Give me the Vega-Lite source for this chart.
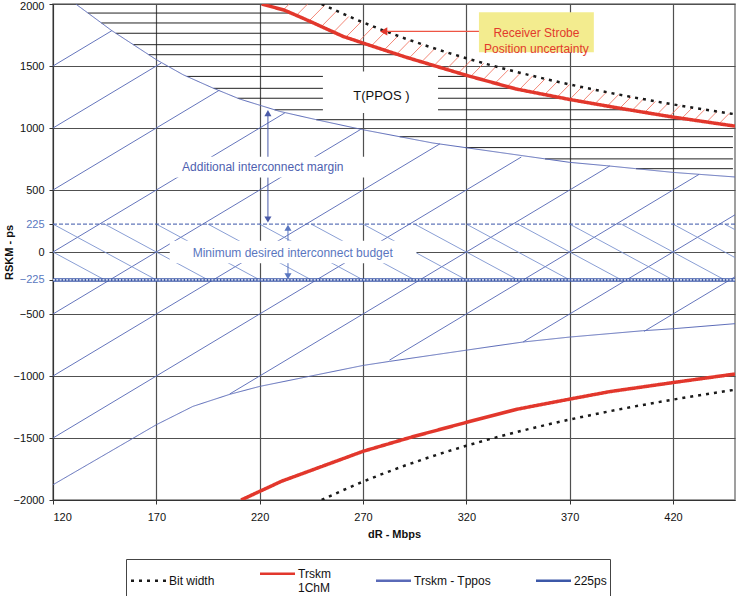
{
  "$schema": "https://vega.github.io/schema/vega-lite/v6.json",
  "width": 682,
  "height": 496,
  "autosize": {"type": "none"},
  "padding": {"left": 53, "top": 4, "right": 1, "bottom": 96},
  "background": "white",
  "config": {
    "font": "Liberation Sans",
    "view": {"stroke": "#808080", "strokeWidth": 1.5},
    "axis": {"gridColor": "#505050", "gridWidth": 1.2, "domainColor": "#333333", "tickColor": "#333333", "labelFontSize": 11, "labelColor": "#111111", "titleFontSize": 11, "titleFontWeight": "bold", "titleColor": "#111111", "tickSize": 4},
    "legend": {"orient": "none", "legendX": 73, "legendY": 555, "direction": "horizontal", "columns": 4, "gridAlign": "each", "strokeColor": "#444444", "padding": 3, "symbolType": "M-1.75,0H1.75", "symbolSize": 400, "symbolOffset": 8, "symbolStrokeWidth": 2.5, "labelFontSize": 12, "labelColor": "#111111", "labelLimit": 200, "columnPadding": 40, "labelOffset": 9}
  },
  "datasets": {
    "curves": [
      {"series": "Bit width", "branch": "bw_up", "x": 250, "y": 2000},
      {"series": "Bit width", "branch": "bw_up", "x": 260, "y": 1923.1},
      {"series": "Bit width", "branch": "bw_up", "x": 270, "y": 1851.9},
      {"series": "Bit width", "branch": "bw_up", "x": 280, "y": 1785.7},
      {"series": "Bit width", "branch": "bw_up", "x": 290, "y": 1724.1},
      {"series": "Bit width", "branch": "bw_up", "x": 300, "y": 1666.7},
      {"series": "Bit width", "branch": "bw_up", "x": 310, "y": 1612.9},
      {"series": "Bit width", "branch": "bw_up", "x": 320, "y": 1562.5},
      {"series": "Bit width", "branch": "bw_up", "x": 330, "y": 1515.2},
      {"series": "Bit width", "branch": "bw_up", "x": 340, "y": 1470.6},
      {"series": "Bit width", "branch": "bw_up", "x": 350, "y": 1428.6},
      {"series": "Bit width", "branch": "bw_up", "x": 360, "y": 1388.9},
      {"series": "Bit width", "branch": "bw_up", "x": 370, "y": 1351.4},
      {"series": "Bit width", "branch": "bw_up", "x": 380, "y": 1315.8},
      {"series": "Bit width", "branch": "bw_up", "x": 390, "y": 1282.1},
      {"series": "Bit width", "branch": "bw_up", "x": 400, "y": 1250},
      {"series": "Bit width", "branch": "bw_up", "x": 410, "y": 1219.5},
      {"series": "Bit width", "branch": "bw_up", "x": 420, "y": 1190.5},
      {"series": "Bit width", "branch": "bw_up", "x": 430, "y": 1162.8},
      {"series": "Bit width", "branch": "bw_up", "x": 440, "y": 1136.4},
      {"series": "Bit width", "branch": "bw_up", "x": 450, "y": 1111.1},
      {"series": "Bit width", "branch": "bw_lo", "x": 250, "y": -2000},
      {"series": "Bit width", "branch": "bw_lo", "x": 260, "y": -1923.1},
      {"series": "Bit width", "branch": "bw_lo", "x": 270, "y": -1851.9},
      {"series": "Bit width", "branch": "bw_lo", "x": 280, "y": -1785.7},
      {"series": "Bit width", "branch": "bw_lo", "x": 290, "y": -1724.1},
      {"series": "Bit width", "branch": "bw_lo", "x": 300, "y": -1666.7},
      {"series": "Bit width", "branch": "bw_lo", "x": 310, "y": -1612.9},
      {"series": "Bit width", "branch": "bw_lo", "x": 320, "y": -1562.5},
      {"series": "Bit width", "branch": "bw_lo", "x": 330, "y": -1515.2},
      {"series": "Bit width", "branch": "bw_lo", "x": 340, "y": -1470.6},
      {"series": "Bit width", "branch": "bw_lo", "x": 350, "y": -1428.6},
      {"series": "Bit width", "branch": "bw_lo", "x": 360, "y": -1388.9},
      {"series": "Bit width", "branch": "bw_lo", "x": 370, "y": -1351.4},
      {"series": "Bit width", "branch": "bw_lo", "x": 380, "y": -1315.8},
      {"series": "Bit width", "branch": "bw_lo", "x": 390, "y": -1282.1},
      {"series": "Bit width", "branch": "bw_lo", "x": 400, "y": -1250},
      {"series": "Bit width", "branch": "bw_lo", "x": 410, "y": -1219.5},
      {"series": "Bit width", "branch": "bw_lo", "x": 420, "y": -1190.5},
      {"series": "Bit width", "branch": "bw_lo", "x": 430, "y": -1162.8},
      {"series": "Bit width", "branch": "bw_lo", "x": 440, "y": -1136.4},
      {"series": "Bit width", "branch": "bw_lo", "x": 450, "y": -1111.1},
      {"series": "Trskm 1ChM", "branch": "r_up", "x": 221, "y": 2000},
      {"series": "Trskm 1ChM", "branch": "r_up", "x": 232, "y": 1950},
      {"series": "Trskm 1ChM", "branch": "r_up", "x": 242.6, "y": 1873},
      {"series": "Trskm 1ChM", "branch": "r_up", "x": 260.3, "y": 1739},
      {"series": "Trskm 1ChM", "branch": "r_up", "x": 270, "y": 1685},
      {"series": "Trskm 1ChM", "branch": "r_up", "x": 291, "y": 1570},
      {"series": "Trskm 1ChM", "branch": "r_up", "x": 320, "y": 1425},
      {"series": "Trskm 1ChM", "branch": "r_up", "x": 344, "y": 1315},
      {"series": "Trskm 1ChM", "branch": "r_up", "x": 370, "y": 1230},
      {"series": "Trskm 1ChM", "branch": "r_up", "x": 395, "y": 1157},
      {"series": "Trskm 1ChM", "branch": "r_up", "x": 420, "y": 1088},
      {"series": "Trskm 1ChM", "branch": "r_up", "x": 450, "y": 1015},
      {"series": "Trskm 1ChM", "branch": "r_lo", "x": 211, "y": -2000},
      {"series": "Trskm 1ChM", "branch": "r_lo", "x": 230.7, "y": -1848},
      {"series": "Trskm 1ChM", "branch": "r_lo", "x": 270.1, "y": -1607},
      {"series": "Trskm 1ChM", "branch": "r_lo", "x": 293.6, "y": -1492},
      {"series": "Trskm 1ChM", "branch": "r_lo", "x": 320, "y": -1374},
      {"series": "Trskm 1ChM", "branch": "r_lo", "x": 344.8, "y": -1267},
      {"series": "Trskm 1ChM", "branch": "r_lo", "x": 369.8, "y": -1187},
      {"series": "Trskm 1ChM", "branch": "r_lo", "x": 389.4, "y": -1126},
      {"series": "Trskm 1ChM", "branch": "r_lo", "x": 420, "y": -1053},
      {"series": "Trskm 1ChM", "branch": "r_lo", "x": 450, "y": -984},
      {"series": "Trskm - Tppos", "branch": "b_up", "x": 131, "y": 2000},
      {"series": "Trskm - Tppos", "branch": "b_up", "x": 148.3, "y": 1787},
      {"series": "Trskm - Tppos", "branch": "b_up", "x": 170, "y": 1551},
      {"series": "Trskm - Tppos", "branch": "b_up", "x": 182.9, "y": 1430},
      {"series": "Trskm - Tppos", "branch": "b_up", "x": 197.4, "y": 1322},
      {"series": "Trskm - Tppos", "branch": "b_up", "x": 210.3, "y": 1234},
      {"series": "Trskm - Tppos", "branch": "b_up", "x": 229.7, "y": 1134},
      {"series": "Trskm - Tppos", "branch": "b_up", "x": 247.4, "y": 1067},
      {"series": "Trskm - Tppos", "branch": "b_up", "x": 270, "y": 986},
      {"series": "Trskm - Tppos", "branch": "b_up", "x": 303.8, "y": 879},
      {"series": "Trskm - Tppos", "branch": "b_up", "x": 328, "y": 822},
      {"series": "Trskm - Tppos", "branch": "b_up", "x": 370, "y": 723},
      {"series": "Trskm - Tppos", "branch": "b_up", "x": 387.7, "y": 696},
      {"series": "Trskm - Tppos", "branch": "b_up", "x": 420, "y": 642},
      {"series": "Trskm - Tppos", "branch": "b_up", "x": 450, "y": 605},
      {"series": "Trskm - Tppos", "branch": "b_lo", "x": 120, "y": -1877},
      {"series": "Trskm - Tppos", "branch": "b_lo", "x": 129.7, "y": -1783},
      {"series": "Trskm - Tppos", "branch": "b_lo", "x": 170, "y": -1393},
      {"series": "Trskm - Tppos", "branch": "b_lo", "x": 187.7, "y": -1245},
      {"series": "Trskm - Tppos", "branch": "b_lo", "x": 205.5, "y": -1148},
      {"series": "Trskm - Tppos", "branch": "b_lo", "x": 220, "y": -1084},
      {"series": "Trskm - Tppos", "branch": "b_lo", "x": 270, "y": -915},
      {"series": "Trskm - Tppos", "branch": "b_lo", "x": 282.9, "y": -882},
      {"series": "Trskm - Tppos", "branch": "b_lo", "x": 331, "y": -765},
      {"series": "Trskm - Tppos", "branch": "b_lo", "x": 347.4, "y": -726},
      {"series": "Trskm - Tppos", "branch": "b_lo", "x": 370, "y": -686},
      {"series": "Trskm - Tppos", "branch": "b_lo", "x": 405.4, "y": -635},
      {"series": "Trskm - Tppos", "branch": "b_lo", "x": 420, "y": -619},
      {"series": "Trskm - Tppos", "branch": "b_lo", "x": 450, "y": -578},
      {"series": "225ps", "branch": "m225", "x": 120, "y": -225},
      {"series": "225ps", "branch": "m225", "x": 450, "y": -225}
    ],
    "asc": [
      {"x": 120, "y": 1500, "x2": 148.5, "y2": 1785},
      {"x": 120, "y": 1000, "x2": 172.4, "y2": 1524},
      {"x": 120, "y": 500, "x2": 200.5, "y2": 1305},
      {"x": 120, "y": 0, "x2": 232.2, "y2": 1122},
      {"x": 120, "y": -500, "x2": 268.8, "y2": 988},
      {"x": 120, "y": -1000, "x2": 307.2, "y2": 872},
      {"x": 120, "y": -1500, "x2": 346.6, "y2": 766},
      {"x": 205.5, "y": -1145, "x2": 389.4, "y2": 694},
      {"x": 282.8, "y": -872, "x2": 432.6, "y2": 626},
      {"x": 347.5, "y": -725, "x2": 450, "y2": 300},
      {"x": 406, "y": -640, "x2": 450, "y2": -200}
    ],
    "desc": [
      {"x": 120, "y": 0, "x2": 145, "y2": -225},
      {"x": 120, "y": 225, "x2": 170, "y2": -225},
      {"x": 145, "y": 225, "x2": 195, "y2": -225},
      {"x": 170, "y": 225, "x2": 220, "y2": -225},
      {"x": 195, "y": 225, "x2": 245, "y2": -225},
      {"x": 220, "y": 225, "x2": 270, "y2": -225},
      {"x": 245, "y": 225, "x2": 295, "y2": -225},
      {"x": 270, "y": 225, "x2": 320, "y2": -225},
      {"x": 295, "y": 225, "x2": 345, "y2": -225},
      {"x": 320, "y": 225, "x2": 370, "y2": -225},
      {"x": 345, "y": 225, "x2": 395, "y2": -225},
      {"x": 370, "y": 225, "x2": 420, "y2": -225},
      {"x": 395, "y": 225, "x2": 445, "y2": -225},
      {"x": 420, "y": 225, "x2": 450, "y2": -45},
      {"x": 445, "y": 225, "x2": 450, "y2": 180}
    ],
    "horiz": [
      {"y": 1927, "x": 136.9, "x2": 235.2},
      {"y": 1847, "x": 143.4, "x2": 246.0},
      {"y": 1764, "x": 150.4, "x2": 257.0},
      {"y": 1672, "x": 158.9, "x2": 272.6},
      {"y": 1591, "x": 166.3, "x2": 288.4},
      {"y": 1416, "x": 184.8, "x2": 322.8},
      {"y": 1320, "x": 197.7, "x2": 341.8},
      {"y": 1240, "x": 209.4, "x2": 366.1},
      {"y": 1147, "x": 227.2, "x2": 399.9},
      {"y": 1067, "x": 247.4, "x2": 430.8},
      {"y": 930, "x": 287.7, "x2": 449},
      {"y": 842, "x": 319.5, "x2": 449},
      {"y": 751, "x": 358.1, "x2": 449},
      {"y": 672, "x": 402.1, "x2": 449}
    ],
    "rhatch": [
      {"x": 232, "y": 1961.2, "x2": 234.3, "y2": 2000},
      {"x": 238, "y": 1911.8, "x2": 243.2, "y2": 2000},
      {"x": 244, "y": 1864.8, "x2": 251.4, "y2": 1989.5},
      {"x": 250, "y": 1820, "x2": 257.2, "y2": 1942.4},
      {"x": 256, "y": 1777.3, "x2": 263.1, "y2": 1898.7},
      {"x": 262, "y": 1736.6, "x2": 269.1, "y2": 1856.8},
      {"x": 268, "y": 1697.8, "x2": 275.0, "y2": 1817.0},
      {"x": 274, "y": 1660.6, "x2": 280.9, "y2": 1778.6},
      {"x": 280, "y": 1625, "x2": 286.9, "y2": 1741.8},
      {"x": 286, "y": 1590.9, "x2": 292.8, "y2": 1706.7},
      {"x": 292, "y": 1558.2, "x2": 298.7, "y2": 1672.8},
      {"x": 298, "y": 1526.8, "x2": 304.7, "y2": 1640.2},
      {"x": 304, "y": 1496.7, "x2": 310.6, "y2": 1608.9},
      {"x": 310, "y": 1467.7, "x2": 316.5, "y2": 1578.9},
      {"x": 316, "y": 1439.9, "x2": 322.5, "y2": 1549.9},
      {"x": 322, "y": 1413.0, "x2": 328.4, "y2": 1522.0},
      {"x": 328, "y": 1387.2, "x2": 334.3, "y2": 1495.0},
      {"x": 334, "y": 1362.3, "x2": 340.3, "y2": 1468.9},
      {"x": 340, "y": 1338.2, "x2": 346.2, "y2": 1443.8},
      {"x": 346, "y": 1315.0, "x2": 352.1, "y2": 1419.4},
      {"x": 352, "y": 1292.6, "x2": 358.1, "y2": 1395.8},
      {"x": 358, "y": 1270.9, "x2": 364.0, "y2": 1373.1},
      {"x": 364, "y": 1250, "x2": 370.0, "y2": 1351.2},
      {"x": 370, "y": 1229.7, "x2": 375.9, "y2": 1329.8},
      {"x": 376, "y": 1210.1, "x2": 381.8, "y2": 1309.2},
      {"x": 382, "y": 1191.1, "x2": 387.8, "y2": 1289.2},
      {"x": 388, "y": 1172.7, "x2": 393.7, "y2": 1269.8},
      {"x": 394, "y": 1154.8, "x2": 399.7, "y2": 1250.9},
      {"x": 400, "y": 1137.5, "x2": 405.6, "y2": 1232.5},
      {"x": 406, "y": 1120.7, "x2": 411.5, "y2": 1214.7},
      {"x": 412, "y": 1104.4, "x2": 417.5, "y2": 1197.4},
      {"x": 418, "y": 1088.5, "x2": 423.4, "y2": 1180.6},
      {"x": 424, "y": 1073.1, "x2": 429.4, "y2": 1164.2},
      {"x": 430, "y": 1058.1, "x2": 435.3, "y2": 1148.4},
      {"x": 436, "y": 1043.6, "x2": 441.3, "y2": 1133.0},
      {"x": 442, "y": 1029.4, "x2": 447.2, "y2": 1117.8}
    ],
    "wboxes": [
      {"x": 250.6, "x2": 306.3, "y": 1121, "y2": 1456},
      {"x": 177.5, "x2": 272.4, "y": 600, "y2": 768},
      {"x": 176.5, "x2": 295.8, "y": -90, "y2": 90}
    ]
  },
  "encoding": {
    "x": {"field": "x", "type": "quantitative", "scale": {"domain": [120, 450], "nice": false, "zero": false},
      "axis": {"values": [120, 170, 220, 270, 320, 370, 420], "title": "dR - Mbps", "labelPadding": 7, "titlePadding": 6, "grid": true}},
    "y": {"field": "y", "type": "quantitative", "scale": {"domain": [-2000, 2000], "nice": false, "zero": false},
      "axis": {"values": [-2000, -1500, -1000, -500, -225, 0, 225, 500, 1000, 1500, 2000], "format": "d", "title": "RSKM - ps", "labelPadding": 5, "grid": true,
        "labelColor": {"condition": {"test": "abs(datum.value) == 225", "value": "#5a78c0"}, "value": "#111111"},
        "labelBaseline": {"condition": {"test": "datum.value == 2000", "value": "top"}, "value": "middle"},
        "labelOffset": {"condition": {"test": "datum.value == 2000", "value": -4}, "value": 0},
        "gridOpacity": {"condition": {"test": "abs(datum.value) == 225", "value": 0}, "value": 1},
        "titleX": -44, "titleY": 248, "titleAngle": 270, "titleAlign": "center", "titleBaseline": "middle"}}
  },
  "layer": [
    {"data": {"name": "asc"}, "mark": {"type": "rule", "color": "#5566b6", "strokeWidth": 0.9},
      "encoding": {"x2": {"field": "x2"}, "y2": {"field": "y2"}}},
    {"data": {"name": "desc"}, "mark": {"type": "rule", "color": "#7c93cf", "strokeWidth": 0.9},
      "encoding": {"x2": {"field": "x2"}, "y2": {"field": "y2"}}},
    {"data": {"name": "horiz"}, "mark": {"type": "rule", "color": "#222222", "strokeWidth": 1},
      "encoding": {"x2": {"field": "x2"}}},
    {"data": {"name": "rhatch"}, "mark": {"type": "rule", "color": "#f06a55", "strokeWidth": 0.8},
      "encoding": {"x2": {"field": "x2"}, "y2": {"field": "y2"}}},
    {"data": {"name": "wboxes"}, "mark": {"type": "rect", "fill": "white"},
      "encoding": {"x2": {"field": "x2"}, "y2": {"field": "y2"}}},
    {"data": {"values": [{"x": 120, "x2": 450, "y": 225}]}, "mark": {"type": "rule", "color": "#3a55a8", "strokeWidth": 1, "strokeDash": [4, 2]},
      "encoding": {"x2": {"field": "x2"}}},
    {"data": {"name": "curves"}, "transform": [{"filter": "datum.series == 'Trskm - Tppos'"}],
      "mark": {"type": "line", "clip": true, "strokeWidth": 1},
      "encoding": {
        "detail": {"field": "branch"},
        "color": {"field": "series", "type": "nominal", "scale": {"domain": ["Bit width", "Trskm 1ChM", "Trskm - Tppos", "225ps"], "range": ["#1a1a1a", "#e2372c", "#5a6ab8", "#3c58a8"]},
          "legend": {"title": null, "labelExpr": "datum.label == 'Trskm 1ChM' ? ['Trskm', '1ChM'] : datum.label"}},
        "strokeDash": {"field": "series", "type": "nominal", "scale": {"domain": ["Bit width", "Trskm 1ChM", "Trskm - Tppos", "225ps"], "range": [[3, 5], [1, 0], [1, 0], [1, 0]]},
          "legend": {"title": null, "labelExpr": "datum.label == 'Trskm 1ChM' ? ['Trskm', '1ChM'] : datum.label"}}
      }},
    {"data": {"name": "curves"}, "transform": [{"filter": "datum.series == '225ps'"}],
      "mark": {"type": "line", "clip": true, "strokeWidth": 3.5},
      "encoding": {
        "detail": {"field": "branch"},
        "color": {"field": "series", "type": "nominal", "scale": {"domain": ["Bit width", "Trskm 1ChM", "Trskm - Tppos", "225ps"], "range": ["#1a1a1a", "#e2372c", "#5a6ab8", "#3c58a8"]},
          "legend": {"title": null, "labelExpr": "datum.label == 'Trskm 1ChM' ? ['Trskm', '1ChM'] : datum.label"}},
        "strokeDash": {"field": "series", "type": "nominal", "scale": {"domain": ["Bit width", "Trskm 1ChM", "Trskm - Tppos", "225ps"], "range": [[3, 5], [1, 0], [1, 0], [1, 0]]},
          "legend": {"title": null, "labelExpr": "datum.label == 'Trskm 1ChM' ? ['Trskm', '1ChM'] : datum.label"}}
      }},
    {"data": {"name": "curves"}, "transform": [{"filter": "datum.series == '225ps'"}],
      "mark": {"type": "line", "color": "white", "strokeWidth": 1.2, "strokeDash": [2, 1.3]},
      "encoding": {}},
    {"data": {"name": "curves"}, "transform": [{"filter": "datum.series == 'Bit width'"}],
      "mark": {"type": "line", "clip": true, "strokeWidth": 2.5},
      "encoding": {
        "detail": {"field": "branch"},
        "color": {"field": "series", "type": "nominal", "scale": {"domain": ["Bit width", "Trskm 1ChM", "Trskm - Tppos", "225ps"], "range": ["#1a1a1a", "#e2372c", "#5a6ab8", "#3c58a8"]},
          "legend": {"title": null, "labelExpr": "datum.label == 'Trskm 1ChM' ? ['Trskm', '1ChM'] : datum.label"}},
        "strokeDash": {"field": "series", "type": "nominal", "scale": {"domain": ["Bit width", "Trskm 1ChM", "Trskm - Tppos", "225ps"], "range": [[3, 5], [1, 0], [1, 0], [1, 0]]},
          "legend": {"title": null, "labelExpr": "datum.label == 'Trskm 1ChM' ? ['Trskm', '1ChM'] : datum.label"}}
      }},
    {"data": {"name": "curves"}, "transform": [{"filter": "datum.series == 'Trskm 1ChM'"}],
      "mark": {"type": "line", "clip": true, "strokeWidth": 3.5},
      "encoding": {
        "detail": {"field": "branch"},
        "color": {"field": "series", "type": "nominal", "scale": {"domain": ["Bit width", "Trskm 1ChM", "Trskm - Tppos", "225ps"], "range": ["#1a1a1a", "#e2372c", "#5a6ab8", "#3c58a8"]},
          "legend": {"title": null, "labelExpr": "datum.label == 'Trskm 1ChM' ? ['Trskm', '1ChM'] : datum.label"}},
        "strokeDash": {"field": "series", "type": "nominal", "scale": {"domain": ["Bit width", "Trskm 1ChM", "Trskm - Tppos", "225ps"], "range": [[3, 5], [1, 0], [1, 0], [1, 0]]},
          "legend": {"title": null, "labelExpr": "datum.label == 'Trskm 1ChM' ? ['Trskm', '1ChM'] : datum.label"}}
      }},
    {"data": {"values": [{"x": 326.1, "x2": 381.7, "y": 1610, "y2": 1933}]}, "mark": {"type": "rect", "fill": "#f3ec8f"},
      "encoding": {"x2": {"field": "x2"}, "y2": {"field": "y2"}}},
    {"data": {"values": [{"x": 353.9, "y": 1770, "label": "Receiver Strobe\nPosition uncertainty"}]},
      "mark": {"type": "text", "color": "#e23a2c", "fontSize": 12, "lineBreak": "\n", "lineHeight": 16, "align": "center", "baseline": "middle"},
      "encoding": {"text": {"field": "label"}}},
    {"data": {"values": [{"x": 278.9, "y": 1262, "label": "T(PPOS )"}]},
      "mark": {"type": "text", "color": "#111111", "fontSize": 13, "align": "center", "baseline": "middle"},
      "encoding": {"text": {"field": "label"}}},
    {"data": {"values": [{"x": 221.5, "y": 686, "label": "Additional interconnect margin"}]},
      "mark": {"type": "text", "color": "#4e5fb0", "fontSize": 12, "align": "center", "baseline": "middle"},
      "encoding": {"text": {"field": "label"}}},
    {"data": {"values": [{"x": 236, "y": -5, "label": "Minimum desired interconnect budget"}]},
      "mark": {"type": "text", "color": "#5a76c0", "fontSize": 12, "align": "center", "baseline": "middle"},
      "encoding": {"text": {"field": "label"}}},
    {"data": {"values": [{"x": 224, "y": 768, "y2": 1125}, {"x": 224, "y": 600, "y2": 258}]},
      "mark": {"type": "rule", "color": "#4a5aa8", "strokeWidth": 1},
      "encoding": {"y2": {"field": "y2"}}},
    {"data": {"values": [{"x": 233.7, "y": 90, "y2": 200}, {"x": 233.7, "y": -90, "y2": -200}]},
      "mark": {"type": "rule", "color": "#5a76c0", "strokeWidth": 1},
      "encoding": {"y2": {"field": "y2"}}},
    {"data": {"values": [{"x": 224, "y": 1120}]}, "mark": {"type": "point", "shape": "triangle-up", "filled": true, "color": "#4a5aa8", "size": 50, "opacity": 1}},
    {"data": {"values": [{"x": 224, "y": 262}]}, "mark": {"type": "point", "shape": "triangle-down", "filled": true, "color": "#4a5aa8", "size": 50, "opacity": 1}},
    {"data": {"values": [{"x": 233.7, "y": 196}]}, "mark": {"type": "point", "shape": "triangle-up", "filled": true, "color": "#5a76c0", "size": 50, "opacity": 1}},
    {"data": {"values": [{"x": 233.7, "y": -196}]}, "mark": {"type": "point", "shape": "triangle-down", "filled": true, "color": "#5a76c0", "size": 50, "opacity": 1}},
    {"data": {"values": [{"x": 281.5, "x2": 326.1, "y": 1779}]}, "mark": {"type": "rule", "color": "#ee5544", "strokeWidth": 1.2},
      "encoding": {"x2": {"field": "x2"}}},
    {"data": {"values": [{"x": 280, "y": 1779}]}, "mark": {"type": "point", "shape": "triangle-left", "filled": true, "color": "#e2372c", "size": 70, "opacity": 1}}
  ]
}
